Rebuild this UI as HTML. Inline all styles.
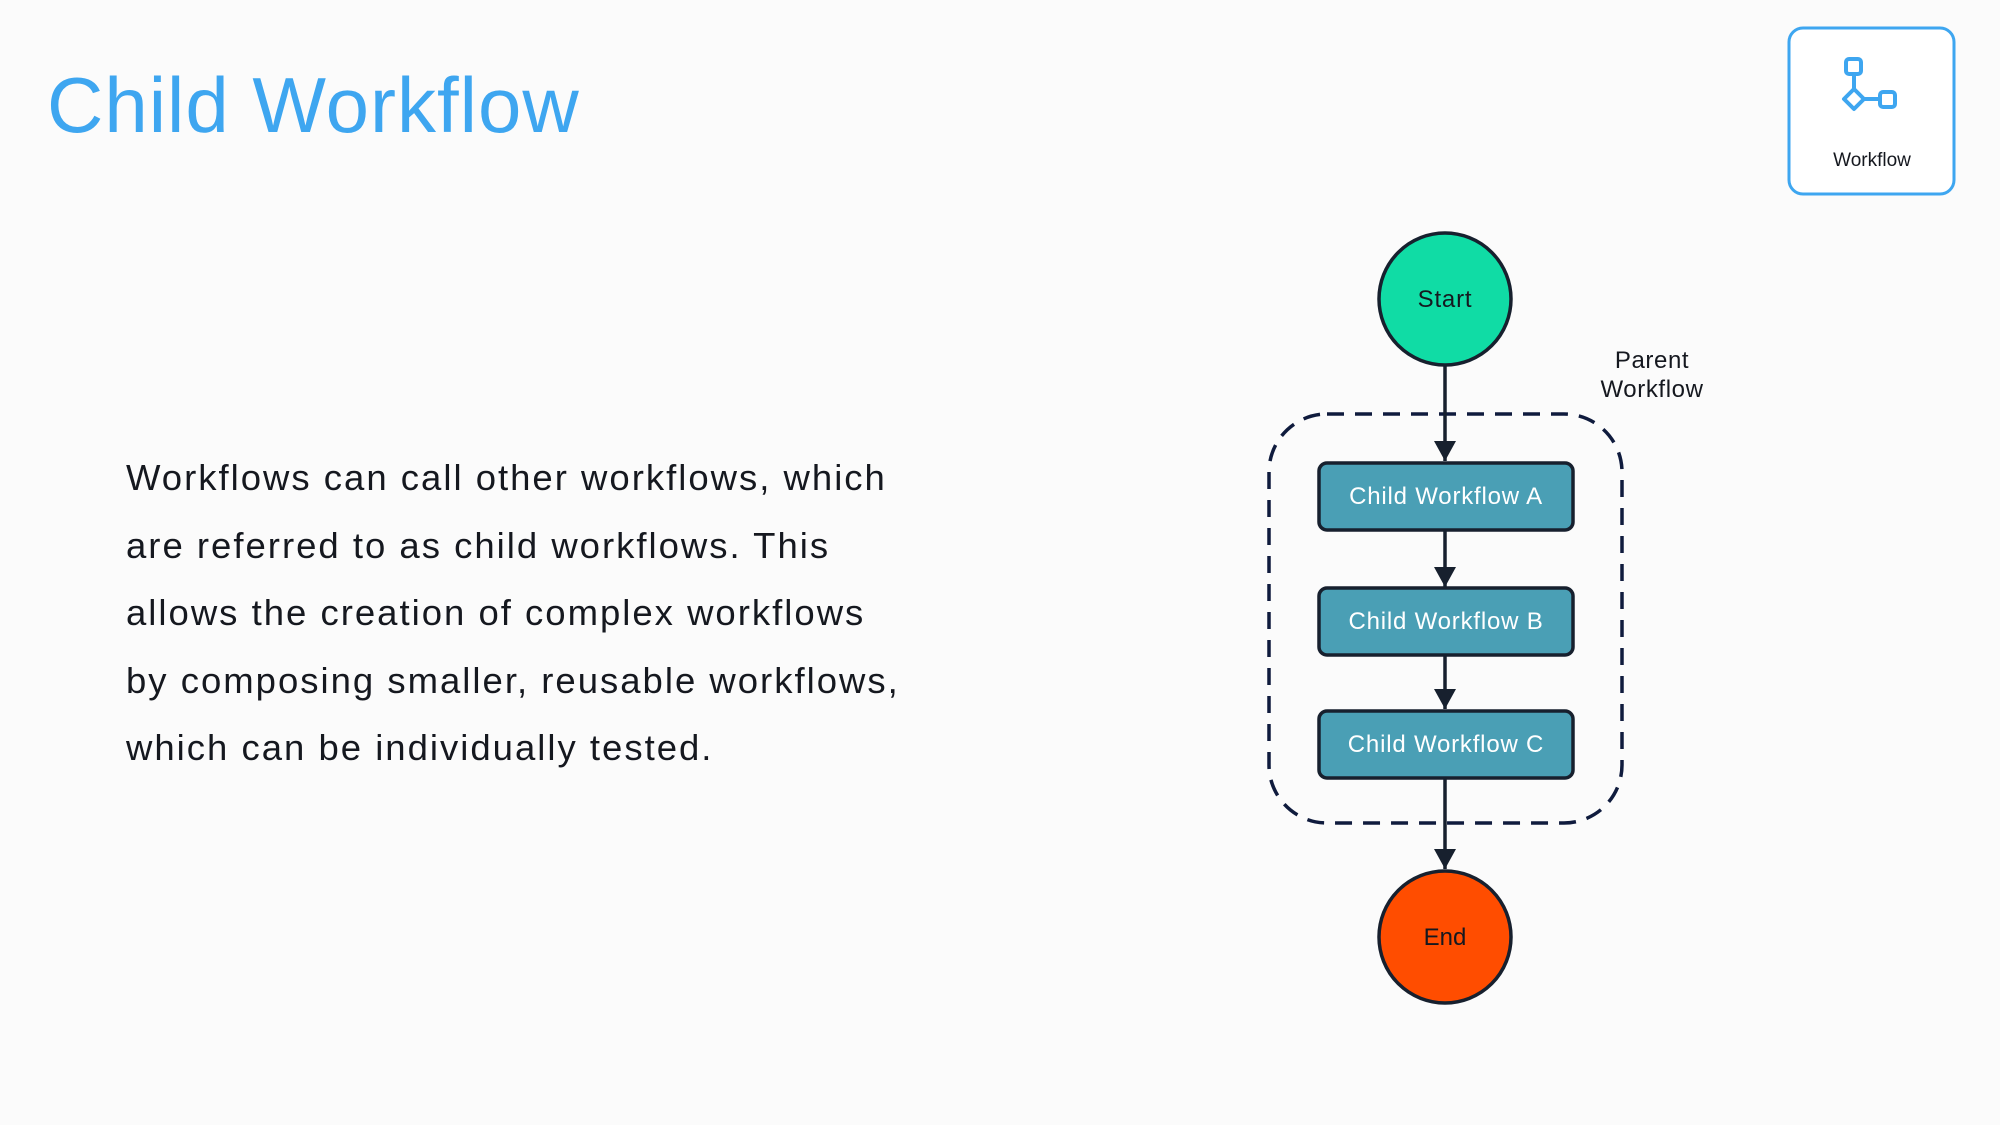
<!DOCTYPE html>
<html><head><style>
body{margin:0;width:2000px;height:1125px;background:#fbfbfb;overflow:hidden;font-family:"Liberation Sans",sans-serif;position:relative}
.t{position:absolute;left:47px;top:60px;font-size:78px;color:#3ea6f0;letter-spacing:1px}
.p{position:absolute;left:126px;top:444px;font-size:36.5px;line-height:67.5px;color:#15181f;width:1000px;letter-spacing:2px}
</style></head><body>
<div class="t">Child Workflow</div>
<div class="p">Workflows can call other workflows, which<br>are referred to as child workflows. This<br>allows the creation of complex workflows<br>by composing smaller, reusable workflows,<br>which can be individually tested.</div>
<svg width="2000" height="1125" style="position:absolute;left:0;top:0">
<defs>
<marker id="b" viewBox="0 0 20 22" markerWidth="20" markerHeight="22" refX="20" refY="11" orient="auto" markerUnits="userSpaceOnUse"><path d="M0,0 L20,11 L0,22Z" fill="#17202e"/></marker></defs>
<rect x="1789" y="28" width="165" height="166" rx="14" fill="#fff" stroke="#3ea6f0" stroke-width="3"/>
<g fill="none" stroke="#3ea6f0" stroke-width="4">
<rect x="1846" y="59" width="15" height="15" rx="3"/>
<rect x="1880" y="92" width="15" height="15" rx="3"/>
<path d="M1854 74 V89 M1864 99 H1880"/>
<path d="M1854 89 L1864 99 L1854 109 L1844 99Z" stroke-linejoin="round"/>
</g>
<text x="1872" y="166" font-size="19" text-anchor="middle" fill="#15181f">Workflow</text>
<rect x="1269" y="414" width="353" height="409" rx="58" fill="none" stroke="#0f1b3d" stroke-width="3.5" stroke-dasharray="17,11"/>
<g stroke="#17202e" stroke-width="3.5">
<line x1="1445" y1="366" x2="1445" y2="461" marker-end="url(#b)"/>
<line x1="1445" y1="530" x2="1445" y2="587" marker-end="url(#b)"/>
<line x1="1445" y1="656" x2="1445" y2="709" marker-end="url(#b)"/>
<line x1="1445" y1="778" x2="1445" y2="869" marker-end="url(#b)"/>
</g>
<circle cx="1445" cy="299" r="66" fill="#10dca5" stroke="#17202e" stroke-width="3.5"/>
<text x="1445" y="307" font-size="24" text-anchor="middle" fill="#15181f" letter-spacing="0.8">Start</text>
<circle cx="1445" cy="937" r="66" fill="#ff4d00" stroke="#17202e" stroke-width="3.5"/>
<text x="1445" y="945" font-size="24" text-anchor="middle" fill="#15181f">End</text>
<g font-size="24" text-anchor="middle" fill="#fff" letter-spacing="0.8">
<rect x="1319" y="463" width="254" height="67" rx="8" fill="#4a9fb5" stroke="#17202e" stroke-width="3.5"/>
<text x="1446" y="504">Child Workflow A</text>
<rect x="1319" y="588" width="254" height="67" rx="8" fill="#4a9fb5" stroke="#17202e" stroke-width="3.5"/>
<text x="1446" y="629">Child Workflow B</text>
<rect x="1319" y="711" width="254" height="67" rx="8" fill="#4a9fb5" stroke="#17202e" stroke-width="3.5"/>
<text x="1446" y="752">Child Workflow C</text>
</g>
<text x="1652" y="368" font-size="24" text-anchor="middle" fill="#15181f" letter-spacing="0.6">Parent</text>
<text x="1652" y="397" font-size="24" text-anchor="middle" fill="#15181f" letter-spacing="0.6">Workflow</text>
</svg>
</body></html>
